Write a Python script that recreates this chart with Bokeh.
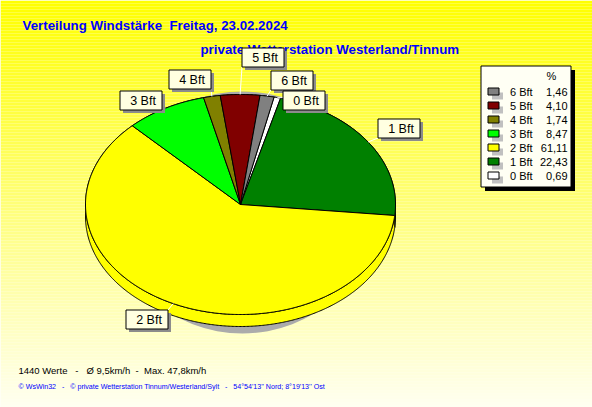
import numpy as np
from bokeh.plotting import figure
from bokeh.models import Range1d
from bokeh.embed import file_html
from bokeh.resources import INLINE
from bokeh.core.properties import value

# ---------------- data ----------------
categories = ["0 Bft", "1 Bft", "2 Bft", "3 Bft", "4 Bft", "5 Bft", "6 Bft"]
percent = [0.69, 22.43, 61.11, 8.47, 1.74, 4.10, 1.46]
slice_colors = ["#FFFFFF", "#008000", "#FFFF00", "#00FF00", "#808000", "#800000", "#808080"]
title_text = "Verteilung Windstärke  Freitag, 23.02.2024"
subtitle_text = "private Wetterstation Westerland/Tinnum"
footer_stats = "1440 Werte   -   Ø 9,5km/h  -  Max. 47,8km/h"
footer_credit = "© WsWin32   -   © private Wetterstation Tinnum/Westerland/Sylt   -   54°54'13'' Nord; 8°19'13'' Ost"
legend_header = "%"


def keep_spaces(s):
    # SVG collapses runs of spaces; keep them visible with no-break spaces
    out, prev = [], ""
    for ch in s:
        out.append("\u00a0" if (ch == " " and prev == " ") else ch)
        prev = ch
    return "".join(out)


# ---------------- layout (pixels) ----------------
W, H = 592, 407
CX, CY, RX, RY, DEPTH = 240.0, 204.0, 155.0, 110.0, 12.0
START_DEG = 77.5          # where the first slice begins, drawn clockwise
label_offsets = [(25.7, 2.3), (30.4, -13.9), (-26.3, 15.4), (-25.2, -8.4),
                 (-21.9, -16.9), (22.0, -37.5), (24.0, -16.6)]
BOX_W, BOX_H = 42, 19
FONT = value("Liberation Sans")

p = figure(width=W, height=H, x_range=Range1d(0, W), y_range=Range1d(H, 0),
           output_backend="svg", toolbar_location=None, min_border=0,
           x_axis_type=None, y_axis_type=None)
p.grid.visible = False
p.outline_line_color = None
p.background_fill_color = "#FFFFF0"
p.border_fill_color = "#FFFFF0"

# background gradient (yellow -> pale cream)
step = 3
ys = np.arange(0, H, step)
grad_cols = []
for y in ys:
    f = y / H
    b = int(round(242 * f))
    grad_cols.append("#%02X%02X%02X" % (255, 255, b))
p.quad(left=0, right=W, top=ys, bottom=ys + step, fill_color=grad_cols, line_color=None)

# titles
p.text(x=[22], y=[25], text=[keep_spaces(title_text)], text_font=FONT, text_font_size="13.3px",
       text_font_style="bold", text_color="#0000FF", text_align="left", text_baseline="middle")
p.text(x=[200], y=[49], text=[subtitle_text], text_font=FONT, text_font_size="13.3px",
       text_font_style="bold", text_color="#0000FF", text_align="left", text_baseline="middle")

# pie shadow
p.ellipse(x=[242], y=[212], width=[2 * 130], height=[2 * 121], fill_color="#ABABAB", line_color=None)

# slice angles
vals = np.array(percent)
t_start = START_DEG - np.concatenate([[0], np.cumsum(vals)[:-1]]) * 3.6
t_end = t_start - vals * 3.6

side_xs, side_ys, top_xs, top_ys = [], [], [], []
anchors = []
for t1, t2 in zip(t_start, t_end):
    n = max(3, int(abs(t1 - t2) * 2) + 2)
    ts = np.radians(np.linspace(t1, t2, n))
    ax = CX + RX * np.cos(ts)
    ay = CY - RY * np.sin(ts)
    side_xs.append(list(np.concatenate([ax, ax[::-1]])))
    side_ys.append(list(np.concatenate([ay, ay[::-1] + DEPTH])))
    top_xs.append([CX] + list(ax))
    top_ys.append([CY] + list(ay))
    m = np.radians((t1 + t2) / 2)
    anchors.append((CX + RX * np.cos(m), CY - RY * np.sin(m)))

p.patches(side_xs, side_ys, fill_color=slice_colors, line_color="black", line_width=1)
p.patches(top_xs, top_ys, fill_color=slice_colors, line_color="black", line_width=1)

# labels
lx0, ly0, lx1, ly1 = [], [], [], []
bl, br, bt, bb, tx, ty = [], [], [], [], [], []
for (axp, ayp), (ox, oy) in zip(anchors, label_offsets):
    cxb, cyb = axp + ox, ayp + oy
    left = round(cxb - BOX_W / 2) + 0.5
    top = round(cyb - BOX_H / 2) + 0.5
    right, bottom = left + BOX_W, top + BOX_H
    bl.append(left); br.append(right); bt.append(top); bb.append(bottom)
    tx.append((left + right) / 2 + 2); ty.append((top + bottom) / 2 + 0.5)
    lx0.append(axp); ly0.append(ayp)
    lx1.append(min(max(axp, left), right)); ly1.append(min(max(ayp, top), bottom))

p.segment(x0=lx0, y0=ly0, x1=lx1, y1=ly1, line_color="white", line_width=1)
p.quad(left=[v + 3 for v in bl], right=[v + 3 for v in br], top=[v + 3 for v in bt],
       bottom=[v + 3 for v in bb], fill_color="#8C8C8C", line_color=None)
p.quad(left=bl, right=br, top=bt, bottom=bb, fill_color="#FFFFE1", line_color="black", line_width=1)
p.text(x=tx, y=ty, text=categories, text_font=FONT, text_font_size="12.5px",
       text_color="black", text_align="center", text_baseline="middle")

# legend
LG_L, LG_R, LG_T, LG_B = 480.5, 570.5, 65.5, 186.5
p.quad(left=[LG_L + 4], right=[LG_R + 4], top=[LG_T + 4], bottom=[LG_B + 4], fill_color="black", line_color=None)
p.quad(left=[LG_L], right=[LG_R], top=[LG_T], bottom=[LG_B], fill_color="#FFFFF4", line_color="black", line_width=1)
p.text(x=[551], y=[75], text=[legend_header], text_font=FONT, text_font_size="11px",
       text_color="black", text_align="center", text_baseline="middle")

order = list(range(len(categories)))[::-1]
row_y = [91 + 14 * k for k in range(len(order))]
leg_names = [categories[i] for i in order]
leg_vals = [("%.2f" % percent[i]).replace(".", ",") for i in order]
leg_cols = [slice_colors[i] for i in order]
p.quad(left=491.5, right=502.5, top=[y - 3 + 4 for y in row_y], bottom=[y + 4 + 4 for y in row_y],
       fill_color="#C0C0C0", line_color=None)
p.quad(left=487.5, right=498.5, top=[y - 3.5 for y in row_y], bottom=[y + 3.5 for y in row_y],
       fill_color=leg_cols, line_color="black", line_width=1)
p.text(x=509.5, y=[y + 0.5 for y in row_y], text=leg_names, text_font=FONT, text_font_size="11px",
       text_color="black", text_align="left", text_baseline="middle")
p.text(x=567, y=[y + 0.5 for y in row_y], text=leg_vals, text_font=FONT, text_font_size="11px",
       text_color="black", text_align="right", text_baseline="middle")

# footers
p.text(x=[18], y=[369.5], text=[keep_spaces(footer_stats)], text_font=FONT, text_font_size="9.5px",
       text_color="black", text_align="left", text_baseline="middle")
p.text(x=[18], y=[386], text=[keep_spaces(footer_credit)], text_font=FONT, text_font_size="7.1px",
       text_color="#0000FF", text_align="left", text_baseline="middle")

open("out.html", "w").write(file_html(p, INLINE))
